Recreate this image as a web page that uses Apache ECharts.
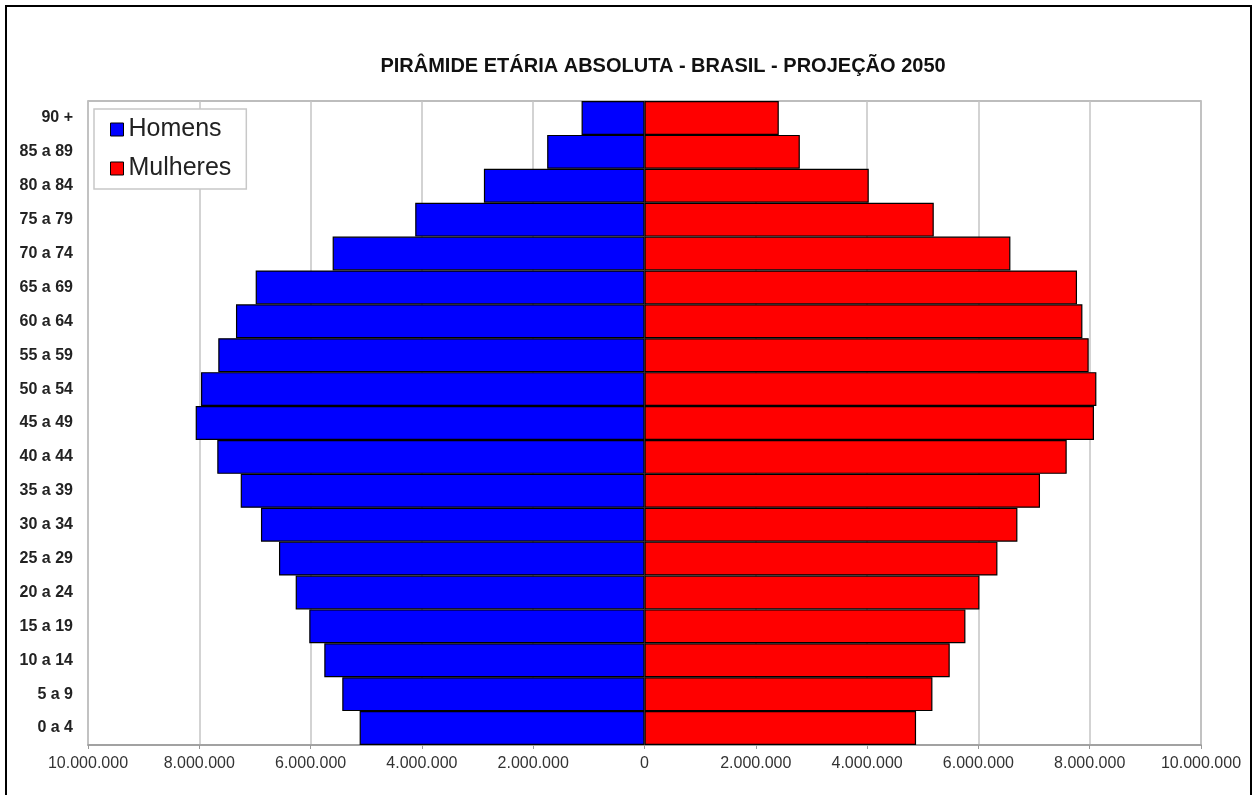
<!DOCTYPE html>
<html>
<head>
<meta charset="utf-8">
<script src="https://cdn.jsdelivr.net/npm/echarts@6/dist/echarts.min.js"></script>
<style>
html,body{margin:0;padding:0;background:#fff;}
#c{width:1257px;height:795px;}
</style>
</head>
<body>
<div id="c"></div>
<script>
const categories = ['0 a 4','5 a 9','10 a 14','15 a 19','20 a 24','25 a 29','30 a 34','35 a 39','40 a 44','45 a 49','50 a 54','55 a 59','60 a 64','65 a 69','70 a 74','75 a 79','80 a 84','85 a 89','90 +'];
const homens = [5119000,5431000,5754000,6024000,6268000,6568000,6892000,7256000,7677000,8065000,7969000,7659000,7341000,6987000,5604000,4120000,2886000,1749000,1131000];
const mulheres = [4880000,5174000,5485000,5767000,6018000,6342000,6701000,7107000,7587000,8077000,8120000,7982000,7869000,7772000,6575000,5198000,4030000,2791000,2413000];
const xTicks = [-10000000,-8000000,-6000000,-4000000,-2000000,0,2000000,4000000,6000000,8000000,10000000];

function fmt(v){
  return String(Math.abs(Math.round(v))).replace(/\B(?=(\d{3})+(?!\d))/g,'.');
}

const chart = echarts.init(document.getElementById('c'));
chart.setOption({
  animation:false,
  backgroundColor:'#fff',
  title:{
    text:'PIRÂMIDE ETÁRIA ABSOLUTA - BRASIL - PROJEÇÃO 2050',
    left:658, top:51, textAlign:'center',
    textStyle:{fontFamily:'Liberation Sans, Arial, sans-serif',fontSize:20,fontWeight:'bold',color:'#111'}
  },
  legend:{
    orient:'vertical',
    left:94, top:109,
    padding:[8,15,8,16],
    itemGap:14,
    itemWidth:13, itemHeight:13,
    backgroundColor:'#fff',
    borderColor:'#c8c8c8', borderWidth:1.5,
    icon:'rect',
    textStyle:{fontFamily:'Liberation Sans, Arial, sans-serif',fontSize:25,color:'#222'},
    data:[{name:'Homens',itemStyle:{borderColor:'#000',borderWidth:1}},{name:'Mulheres',itemStyle:{borderColor:'#000',borderWidth:1}}]
  },
  graphic:[{
    type:'rect', silent:true,
    shape:{x:6,y:6,width:1245,height:800},
    style:{fill:'none',stroke:'#000',lineWidth:2}
  }],
  grid:{left:88,right:56,top:101,bottom:50,show:true,borderColor:'#a8a8a8',borderWidth:1.5,backgroundColor:'transparent'},
  xAxis:{
    type:'value', min:-10000000, max:10000000, interval:2000000,
    axisLine:{show:true,lineStyle:{color:'#999',width:1.5}},
    axisTick:{show:true,length:4,lineStyle:{color:'#999'}},
    splitLine:{show:true,lineStyle:{color:'#c4c4c4',width:1.5}},
    axisLabel:{formatter:function(v){return fmt(v);},fontFamily:'Liberation Sans, Arial, sans-serif',fontSize:16,color:'#333',margin:11,
      customValues:xTicks}
  },
  yAxis:{
    type:'category', data:categories,
    axisLine:{show:true,lineStyle:{color:'#999',width:1.5}},
    axisTick:{show:false},
    axisLabel:{fontFamily:'Liberation Sans, Arial, sans-serif',fontSize:16,fontWeight:'bold',color:'#222',margin:15}
  },
  series:[
    {name:'Homens',type:'bar',data:homens.map(v=>-v),barGap:'-100%',barCategoryGap:'0%',
      itemStyle:{color:'#0000ff',borderColor:'#000',borderWidth:1.2}},
    {name:'Mulheres',type:'bar',data:mulheres,barGap:'-100%',barCategoryGap:'0%',
      itemStyle:{color:'#ff0000',borderColor:'#000',borderWidth:1.2}}
  ]
});
</script>
</body>
</html>
